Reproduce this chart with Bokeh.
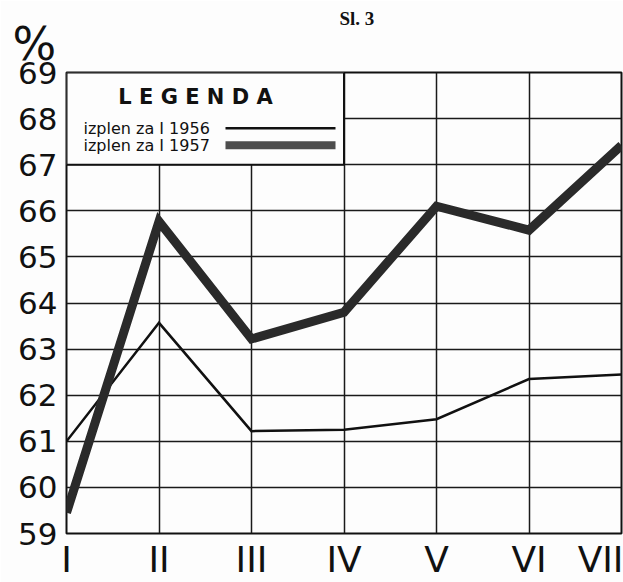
from bokeh.plotting import figure
from bokeh.models import FixedTicker, Range1d, Title
from bokeh.core.properties import value
from bokeh.embed import file_html
from bokeh.resources import INLINE

# ---- data ----
months = ["I", "II", "III", "IV", "V", "VI", "VII"]
y1956 = [61.0, 63.57, 61.22, 61.25, 61.48, 62.35, 62.45]
y1957 = [59.45, 65.77, 63.22, 63.8, 66.1, 65.58, 67.42]
y_ticks = list(range(59, 70))
series_labels = ["izplen za I 1956", "izplen za I 1957"]
legend_title = "L E G E N D A"
figure_title = "Sl. 3"
unit_label = "%"

xs = list(range(len(months)))

# ---- layout ----
W, H = 623, 582
LB, RB, TB, BB = 66, 2, 72, 47
FW = W - LB - RB
FH = H - TB - BB
X0, X1 = 0, len(months) - 1
Y0, Y1 = 59, 69
INK = "#111111"
PAPER = "#fdfdfd"


def px(dx, dy):
    """frame-relative pixels (from top-left) -> data coords"""
    return X0 + dx * (X1 - X0) / FW, Y1 - dy * (Y1 - Y0) / FH


p = figure(width=W, height=H, output_backend="svg", toolbar_location=None,
           x_range=Range1d(X0, X1), y_range=Range1d(Y0, Y1),
           min_border_left=LB, min_border_right=RB, min_border_top=TB,
           min_border_bottom=BB)
p.background_fill_color = PAPER
p.border_fill_color = PAPER
p.outline_line_color = INK
p.outline_line_width = 2

p.xaxis.ticker = FixedTicker(ticks=xs)
p.xaxis.major_label_overrides = {i: m for i, m in zip(xs, months)}
p.yaxis.ticker = FixedTicker(ticks=y_ticks)
for ax in (p.xaxis[0], p.yaxis[0]):
    ax.axis_line_color = None
    ax.major_tick_line_color = None
    ax.minor_tick_line_color = None
    ax.major_tick_out = 0
    ax.major_tick_in = 0
    ax.minor_tick_out = 0
    ax.minor_tick_in = 0
    ax.major_label_text_color = INK
    ax.major_label_text_font = "DejaVu Sans"
p.yaxis.major_label_text_font_size = "31px"
p.yaxis.major_label_standoff = 9
p.xaxis.major_label_text_font_size = "36px"
p.xaxis.major_label_standoff = 5

p.xgrid.ticker = FixedTicker(ticks=xs)
p.ygrid.ticker = FixedTicker(ticks=y_ticks)
for g in (p.xgrid[0], p.ygrid[0]):
    g.grid_line_color = "#1a1a1a"
    g.grid_line_width = 1.5

# legend box (covers grid)
p.quad(left=[X0], right=[3], top=[Y1], bottom=[67],
       fill_color=PAPER, line_color=INK, line_width=2)

tx, ty = px(129, 25)
p.text(x=[tx], y=[ty], text=[legend_title], text_font=value("DejaVu Sans"),
       text_font_size="21px", text_font_style="bold", text_align="center",
       text_baseline="middle", text_color=INK)

rows_dy = [56, 73]
for lbl, dy, lw, col in zip(series_labels, rows_dy, [2.5, 8], [INK, "#4d4d4d"]):
    lx, ly = px(17, dy)
    p.text(x=[lx], y=[ly], text=[lbl], text_font=value("DejaVu Sans"),
           text_font_size="16px", text_align="left", text_baseline="middle",
           text_color=INK)
    sx0, sy = px(159, dy)
    sx1, _ = px(269, dy)
    p.line(x=[sx0, sx1], y=[sy, sy], line_width=lw, line_color=col)

# data lines
p.line(x=xs, y=y1956, line_width=2.5, line_color=INK, line_join="miter")
p.line(x=xs, y=y1957, line_width=9, line_color="#2a2a2a", line_join="miter")

# titles (closest to frame first)
p.add_layout(Title(text=unit_label, align="left", offset=-54, standoff=3,
                   text_font="DejaVu Sans", text_font_size="46px",
                   text_font_style="normal", text_color=INK), "above")
p.add_layout(Title(text=figure_title, align="left", offset=273, standoff=-30,
                   text_font="Liberation Serif", text_font_size="19px",
                   text_font_style="bold", text_color=INK), "above")

open("out.html", "w").write(file_html(p, INLINE))
